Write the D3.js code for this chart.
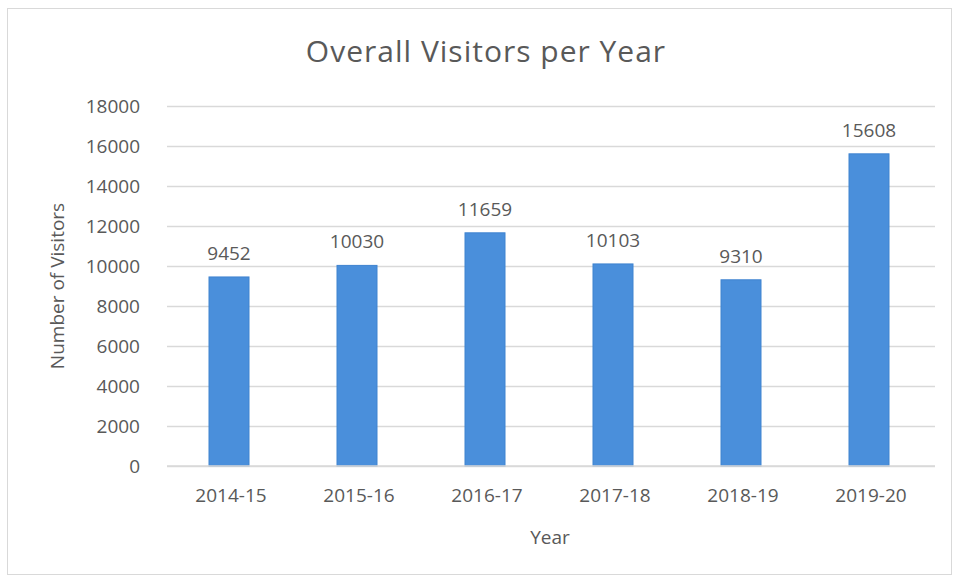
<html>
<head>
    <script src="https://d3js.org/d3.v7.min.js"></script>
    <style>
        body { margin: 0; background: white; }
        * { font-family: "Open Sans", Lato, sans-serif; }
        .gridlines line { stroke: #d9d9d9; stroke-width: 1.3; }
        .gridlines .domain { stroke: none; }
        .axis .domain { stroke: none; }
        .axis line { stroke: none; }
        .axis text { fill: #595959; font-size: 19px; }
        .label { fill: #595959; }
    </style>
</head>
<body>
<svg id="chart" width="955" height="580"></svg>
<script>
    const years = ["2014-15", "2015-16", "2016-17", "2017-18", "2018-19", "2019-20"];
    const visitors = [9452, 10030, 11659, 10103, 9310, 15608];
    const yTicks = [0, 2000, 4000, 6000, 8000, 10000, 12000, 14000, 16000, 18000];

    const data = years.map((y, i) => ({ year: y, count: visitors[i] }));

    const svg = d3.select("#chart");
    const margins = { top: 106, left: 167, right: 20, bottom: 114 };
    const plotWidth = 935 - margins.left;
    const plotHeight = 466 - margins.top;

    // chart border
    svg.append("rect")
        .attr("x", 7.5).attr("y", 8.5)
        .attr("width", 944).attr("height", 566)
        .attr("fill", "white")
        .attr("stroke", "#d9d9d9");

    const plotArea = svg.append("g").attr("transform", `translate(${margins.left},${margins.top})`);

    const xScale = d3.scaleBand().domain(years).range([0, plotWidth]);
    const yScale = d3.scaleLinear().domain([0, 18000]).range([plotHeight, 0]);

    // gridlines
    plotArea.append("g")
        .attr("class", "gridlines")
        .call(d3.axisLeft(yScale).tickValues(yTicks).tickSize(-plotWidth).tickFormat(""));

    // y axis
    plotArea.append("g")
        .attr("class", "axis")
        .attr("transform", "translate(-24,0)")
        .call(d3.axisLeft(yScale).tickValues(yTicks).tickSize(0).tickFormat(d3.format("d")))
        .selectAll("text").attr("dy", "0.35em");

    // x axis
    plotArea.append("g")
        .attr("class", "axis")
        .attr("transform", `translate(0,${plotHeight + 20})`)
        .call(d3.axisBottom(xScale).tickSize(0))
        .selectAll("text").attr("dy", "0.7em");

    const barWidth = 40;

    // bars
    plotArea.selectAll("rect.bar").data(data)
        .join("rect")
        .attr("class", "bar")
        .attr("x", d => xScale(d.year) + xScale.bandwidth() / 2 - barWidth / 2 - 2)
        .attr("y", d => yScale(d.count))
        .attr("width", barWidth)
        .attr("height", d => plotHeight - yScale(d.count))
        .attr("fill", "#4a8fdb")
        .attr("stroke", "#3f83d0")
        .attr("stroke-width", 1);

    // value labels
    plotArea.selectAll("text.value").data(data)
        .join("text")
        .attr("class", "value label")
        .attr("x", d => xScale(d.year) + xScale.bandwidth() / 2 - 2)
        .attr("y", d => yScale(d.count) - 17)
        .attr("text-anchor", "middle")
        .attr("font-size", 19)
        .text(d => d.count);

    // baseline
    plotArea.append("line")
        .attr("x1", 0).attr("x2", plotWidth)
        .attr("y1", plotHeight).attr("y2", plotHeight)
        .attr("stroke", "#d9d9d9").attr("stroke-width", 1.3);

    // title and axis titles
    svg.append("text")
        .attr("class", "label")
        .attr("x", 486).attr("y", 62)
        .attr("text-anchor", "middle")
        .attr("font-size", 30)
        .attr("letter-spacing", 1)
        .text("Overall Visitors per Year");

    svg.append("text")
        .attr("class", "label")
        .attr("x", 550).attr("y", 544)
        .attr("text-anchor", "middle")
        .attr("font-size", 19)
        .text("Year");

    svg.append("text")
        .attr("class", "label")
        .attr("transform", "translate(64,286) rotate(-90)")
        .attr("text-anchor", "middle")
        .attr("font-size", 19)
        .text("Number of Visitors");
</script>
</body>
</html>
